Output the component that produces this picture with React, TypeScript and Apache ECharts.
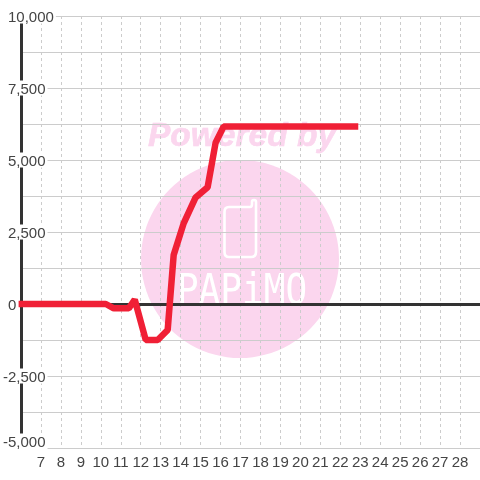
import React, { useEffect, useRef } from "react";
import * as echarts from "echarts";

const xTicks = { min: 6, max: 29, step: 1 };
const yTicks = { min: -5000, max: 10000, step: 2500 };
const profitX = [5.88, 10, 10.25, 10.65, 11.4, 11.7, 12.25, 12.85, 13.35, 13.65, 14.15, 14.75, 15.35, 15.75, 16.15, 22.9];
const profitY = [0, 0, 0, -150, -150, 150, -1250, -1250, -900, 1700, 2800, 3700, 4050, 5600, 6160, 6160];
const pink = "#fbd6ee";
const grey = "#cccccc";

echarts.graphic.registerShape(
  "phone",
  echarts.graphic.extendPath(
    "M229 207 H250 Q252 207 252 204 V202 Q252 200 254 200 Q256 200 256 202 V252 Q256 257 251 257 H229 Q224.5 257 224.5 252 V212 Q224.5 207 229 207 Z",
    {}
  )
);

export default function App() {
  const ref = useRef<HTMLDivElement>(null);
  useEffect(() => {
    const chart = echarts.init(ref.current!, undefined, { renderer: "svg" });
    chart.setOption({
      animation: false,
      grid: { left: 20, right: 0, top: 16, bottom: 32, containLabel: false },
      graphic: [
        { type: "circle", z: -10, shape: { cx: 240, cy: 259, r: 99 }, style: { fill: pink } },
        { type: "text", z: -10, x: 242, y: 134.5, style: { text: "Powered by", fill: pink, stroke: pink, lineWidth: 0.6, font: "italic bold 33.5px 'Liberation Sans'", align: "center", verticalAlign: "middle" } },
        { type: "phone", z: -9, x: 0, y: 0, style: { fill: "none", stroke: "#fff", lineWidth: 2.6 } },
        { type: "text", z: -9, x: 242, y: 289.5, scaleX: 1.03, scaleY: 1.2, style: { text: "PAPiMO", fill: "#fff", font: "35px 'DejaVu Sans Mono'", align: "center", verticalAlign: "middle" } },
      ],
      xAxis: [
        {
          type: "value", min: xTicks.min, max: xTicks.max, interval: xTicks.step, position: "bottom",
          axisLine: { show: false, onZero: false }, axisTick: { show: false },
          axisLabel: { color: "#444", fontSize: 15, fontFamily: "Liberation Sans", margin: 6, showMinLabel: false, showMaxLabel: false },
          splitLine: { show: true, showMinLine: false, showMaxLine: false, lineStyle: { color: grey, type: [3, 3], width: 1 } },
        },
        {
          type: "value", min: xTicks.min, max: xTicks.max, position: "top",
          axisLine: { show: true, onZero: true, lineStyle: { color: "#333", width: 3 } },
          axisTick: { show: false }, axisLabel: { show: false }, splitLine: { show: false },
        },
      ],
      yAxis: {
        type: "value", min: yTicks.min, max: yTicks.max, interval: yTicks.step,
        axisLine: { show: true, onZero: false, lineStyle: { color: "#333", width: 3 } },
        axisTick: { show: false },
        minorTick: { show: false, splitNumber: 2 },
        minorSplitLine: { show: true, lineStyle: { color: grey, width: 1 } },
        splitLine: { show: true, lineStyle: { color: grey, width: 1 } },
        axisLabel: {
          align: "left", margin: 18, color: "#444", fontSize: 15, fontFamily: "Liberation Sans",
          formatter: (v: number) => {
            const s = v.toLocaleString("en-US");
            if (v === yTicks.min) return `{b|${s}}`;
            return v < 0 ? `{n|${s}}` : `{p|${s}}`;
          },
          rich: {
            p: { color: "#444", fontSize: 15, fontFamily: "Liberation Sans", backgroundColor: "#fff", padding: [0, 2, 0, 5] },
            n: { color: "#444", fontSize: 15, fontFamily: "Liberation Sans", backgroundColor: "#fff", padding: [0, 2, 0, 0] },
            b: { color: "#444", fontSize: 15, fontFamily: "Liberation Sans", backgroundColor: "#fff", padding: [0, 2, 14, 0] },
          },
        },
      },
      series: [
        {
          type: "line", xAxisIndex: 0, showSymbol: false, symbol: "none", clip: false,
          data: profitX.map((x, i) => [x, profitY[i]]),
          lineStyle: { color: "#f02036", width: 6.5, join: "bevel", cap: "butt" },
          z: 5,
        },
      ],
    });
    return () => chart.dispose();
  }, []);
  return <div ref={ref} style={{ position: "fixed", left: 0, top: 0, width: 480, height: 480 }} />;
}
